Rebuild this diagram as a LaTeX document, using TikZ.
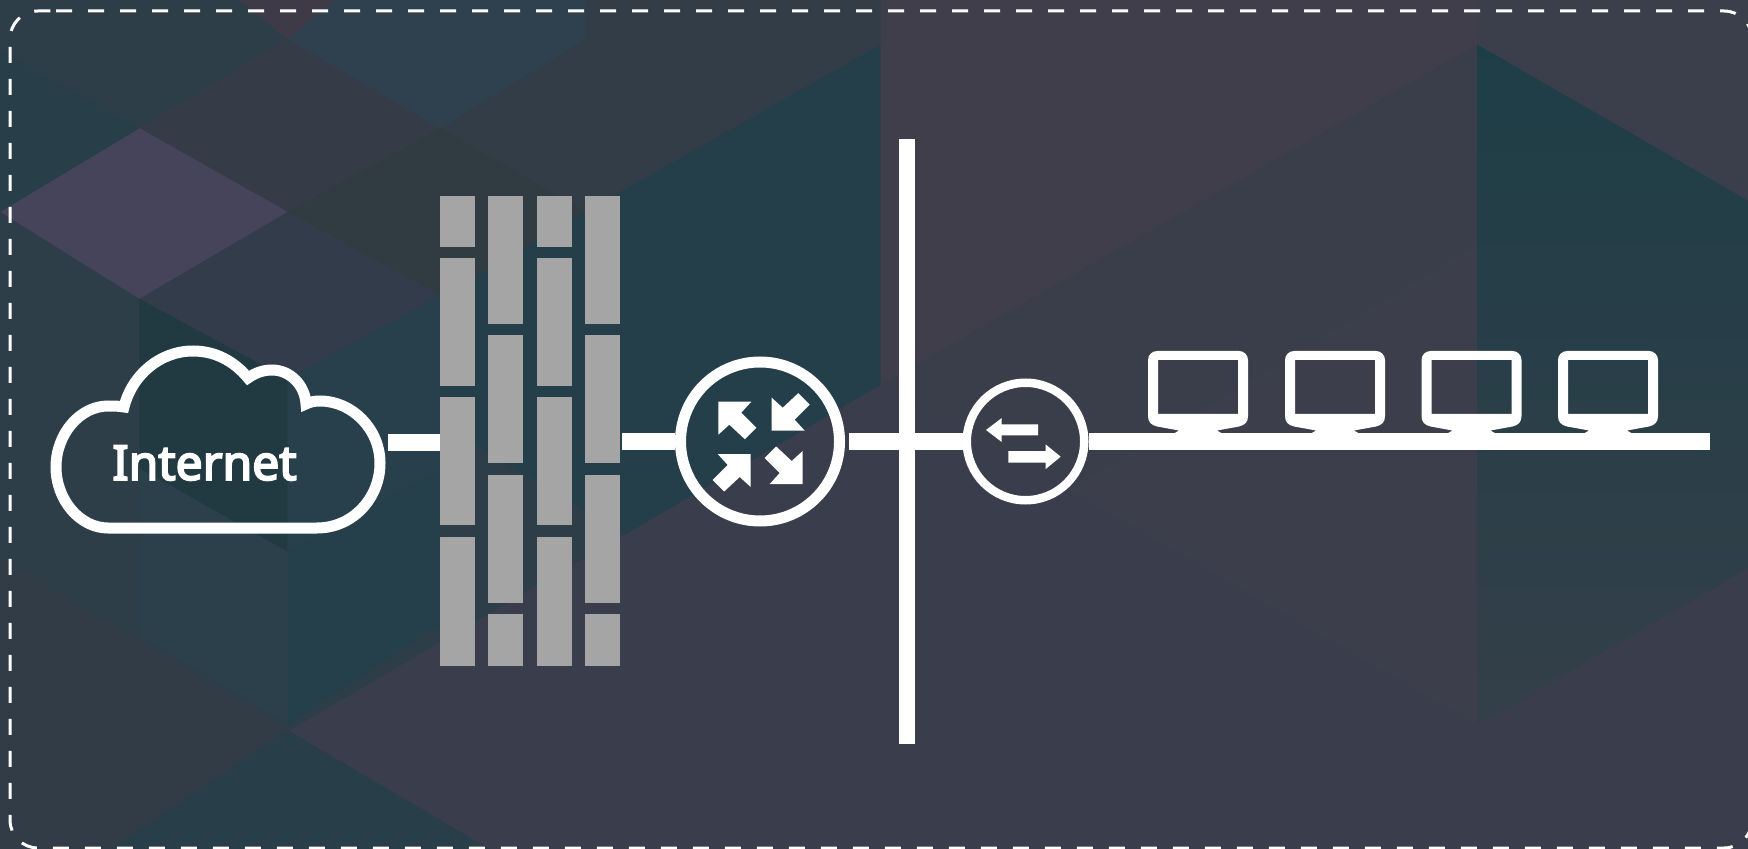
\documentclass[tikz,border=0pt]{standalone}
\usepackage{fontspec}
\setmainfont{Noto Sans}[FakeBold=4]
\usepackage{tikz}

\tikzset{
    wire/.style={draw=white, line width=8.25pt},
    brick/.style={fill=brickgrey},
    hub/.style={shape=circle, draw=white, inner sep=0pt},
    hitbox/.style={inner sep=0pt, outer sep=0pt},
    routerarrow/.pic={\fill[white] (0,0) -- (33,0) -- (23,11) -- (38,26) -- (26.5,37.5) -- (11,23) -- (0,33) -- cycle;},
    monitor/.pic={\fill[white, even odd rule] (0,9) .. controls (0,4) and (4,0) .. (9,0) -- (91,0) .. controls (96,0) and (100,4) .. (100,9) -- (100,65) .. controls (100,71) and (97,74) .. (91,75.5) -- (69,79.5) -- (75,83) -- (25,83) -- (31,79.5) -- (9,75.5) .. controls (3,74) and (0,71) .. (0,65) -- cycle (10,9) rectangle (90,63);}
}
\definecolor{brickgrey}{HTML}{A5A5A5}

\begin{document}
\begin{tikzpicture}[x=0.5pt, y=-0.5pt]
    \useasboundingbox (0,0) rectangle (1748,849);
    \clip (0,0) rectangle (1748,849);
    % background
    \begin{scope}[scale=1.1148]
    \fill[fill={rgb,255:red,57;green,61;blue,76}] (0,0) rectangle (1568,762);
    \fill[fill={rgb,255:red,46;green,62;blue,73}] (0,0) -- (790,0) -- (790,345) -- (260,655) -- (0,500) -- cycle;
    \fill[fill={rgb,255:red,49;green,60;blue,71}] (0,500) -- (260,655) -- (100,762) -- (0,762) -- cycle;
    \fill[fill={rgb,255:red,40;green,62;blue,72}] (100,762) -- (258,655) -- (440,762) -- cycle;
    \fill[fill={rgb,255:red,51;green,61;blue,71}] (525,190) -- (790,40) -- (790,0) -- (525,0) -- (525,35) -- (395,115) -- cycle;
    \fill[fill={rgb,255:red,37;green,63;blue,74}] (395,265) -- (525,190) -- (790,40) -- (790,345) -- (560,480) -- (395,380) -- cycle;
    \fill[fill={rgb,255:red,54;green,60;blue,71}] (125,115) -- (258,35) -- (395,115) -- (258,190) -- cycle;
    \fill[fill={rgb,255:red,48;green,60;blue,66}] (258,190) -- (395,115) -- (525,190) -- (395,265) -- cycle;
    \fill[fill={rgb,255:red,50;green,60;blue,74}] (258,190) -- (395,265) -- (258,340) -- (125,268) -- cycle;
    \fill[fill={rgb,255:red,69;green,68;blue,90}] (125,115) -- (258,190) -- (125,268) -- (0,190) -- cycle;
    \fill[fill={rgb,255:red,63;green,58;blue,72}] (215,0) -- (300,0) -- (258,35) -- cycle;
    \fill[fill={rgb,255:red,47;green,64;blue,78}] (258,35) -- (300,0) -- (525,0) -- (525,35) -- (395,115) -- cycle;
    \fill[fill={rgb,255:red,40;green,62;blue,72}] (125,115) -- (0,45) -- (0,190) -- cycle;
    \fill[fill={rgb,255:red,33;green,58;blue,66}] (125,268) -- (258,340) -- (258,495) -- (125,420) -- cycle;
    \fill[fill={rgb,255:red,40;green,64;blue,75}] (258,495) -- (395,420) -- (395,265) -- (258,340) -- cycle;
    \fill[fill={rgb,255:red,43;green,64;blue,74}] (125,420) -- (258,495) -- (258,650) -- (125,570) -- cycle;
    \fill[fill={rgb,255:red,37;green,64;blue,74}] (258,495) -- (395,420) -- (395,560) -- (258,650) -- cycle;
    \fill[fill={rgb,255:red,64;green,62;blue,75}] (790,0) -- (1325,0) -- (1325,40) -- (790,345) -- cycle;
    \fill[fill={rgb,255:red,58;green,62;blue,75}] (790,345) -- (1325,40) -- (1325,650) -- (960,440) -- cycle;
    \fill[fill={rgb,255:red,61;green,62;blue,75}] (960,440) -- (1325,220) -- (1325,650) -- cycle;
    \fill[fill={rgb,255:red,59;green,62;blue,75}] (1325,0) -- (1568,0) -- (1568,180) -- (1325,40) -- cycle;
    \shade[top color={rgb,255:red,30;green,62;blue,71}, bottom color={rgb,255:red,52;green,63;blue,73}] (1325,40) -- (1568,180) -- (1568,510) -- (1325,650) -- cycle;
    \end{scope}
    % dashed border
    \draw[white, line width=1.5pt, dash pattern=on 8pt off 8pt, rounded corners=14pt] (56,11) -- (1752,11) -- (1752,848) -- (10,848) -- (10,11) -- (56,11);
    % hidden boxes for the connectors
    \node[hitbox, minimum width=170pt, minimum height=90pt] at (218,442.5) (Cloud) {};
    \node[hitbox, minimum width=90pt, minimum height=234.75pt] at (530,430.75) (Firewall) {};
    \node[hub, line width=5.5pt, minimum size=79.5pt] at (760,441.5) (Router) {};
    \node[hub, line width=4.25pt, minimum size=58.75pt] at (1025.5,441.5) (Switch) {};
    \coordinate (BarTop) at (907,139);
    \coordinate (BarBottom) at (907,743.5);
    \coordinate (BusEnd) at (1710,441.5);
    % cloud
    \draw[white, line width=5.5pt, miter limit=10] (108,528) -- (317,528) .. controls (352,528) and (380,499) .. (380,463) .. controls (380,429) and (352,401) .. (320,401) .. controls (314,401) and (310,402) .. (306,404) .. controls (305,385) and (290,370) .. (272,370) .. controls (263,370) and (255,373) .. (248,378) .. controls (234,361) and (215,351) .. (193,351) .. controls (160,351) and (132,375) .. (124,407) .. controls (118,406) and (114,406) .. (108,406) .. controls (80,406) and (56,434) .. (56,467) .. controls (56,500) and (80,528) .. (108,528) -- cycle;
    \node[text=white, font=\fontsize{24}{24}\selectfont] at (204.5,463) (Internet) {Internet};
    % firewall
    \foreach \x in {440,537} {
        \fill[brick] (\x,196) rectangle (\x+35,247.5);
        \fill[brick] (\x,258.5) rectangle (\x+35,386);
        \fill[brick] (\x,397) rectangle (\x+35,525);
        \fill[brick] (\x,537) rectangle (\x+35,665.5);
    }
    \foreach \x in {488,585} {
        \fill[brick] (\x,196) rectangle (\x+35,324);
        \fill[brick] (\x,335) rectangle (\x+35,463);
        \fill[brick] (\x,475) rectangle (\x+35,603);
        \fill[brick] (\x,614) rectangle (\x+35,665.5);
    }
    % connectors
    \path[wire] (Cloud.east) -- (Cloud.east -| Firewall.west);
    \path[wire, shorten <=1pt] (Firewall.east |- Router.west) -- (Router.west);
    \path[wire, shorten <=2pt] (Router.east) -- (Switch.west);
    \path[wire] (Switch.east) -- (BusEnd);
    \path[draw=white, line width=8pt] (BarTop) -- (BarBottom);
    % router arrows
    \pic at (718.3,401.7) {routerarrow};
    \pic[yscale=-1] at (771.7,430.7) {routerarrow};
    \pic[xscale=-1] at (750.7,454) {routerarrow};
    \pic[xscale=-1, yscale=-1] at (802.7,484) {routerarrow};
    % switch arrows
    \fill[white] (986,430) -- (1001.7,418) -- (1001.7,424.5) -- (1038,424.5) -- (1038,435.5) -- (1001.7,435.5) -- (1001.7,442) -- cycle;
    \fill[white] (1060.7,456.7) -- (1045.7,444.5) -- (1045.7,451) -- (1008.3,451) -- (1008.3,462.5) -- (1045.7,462.5) -- (1045.7,469) -- cycle;
    % monitors
    \pic at (1148,351) {monitor};
    \pic at (1285,351) {monitor};
    \pic at (1421.5,351) {monitor};
    \pic at (1558,351) {monitor};
\end{tikzpicture}
\end{document}
